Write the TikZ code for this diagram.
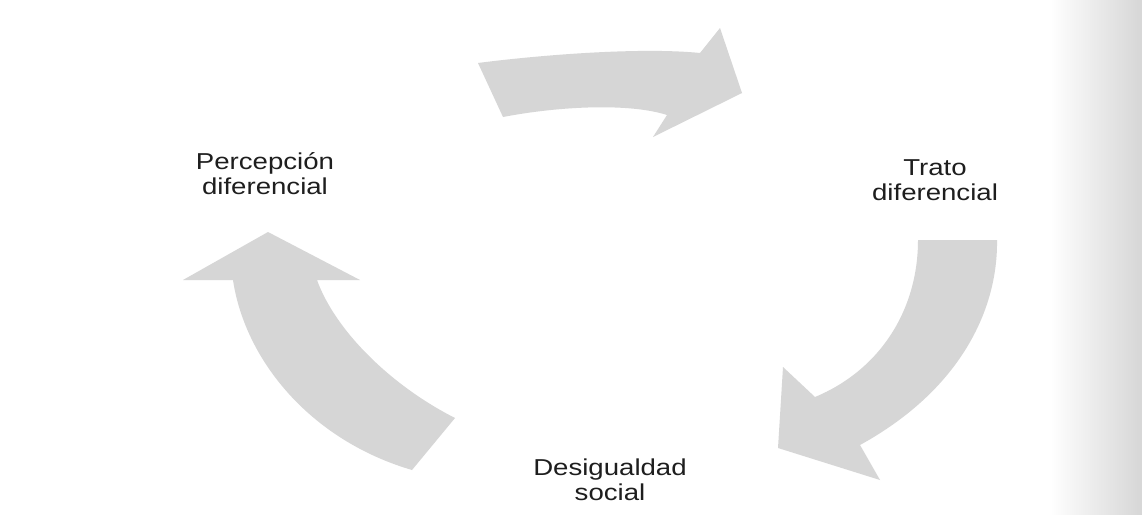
\documentclass[tikz,border=0pt]{standalone}
\usepackage{fontspec}
\newfontfamily\labfont[FakeStretch=1.2]{Liberation Sans}
\definecolor{arrowgray}{RGB}{214,214,214}
\definecolor{textgray}{RGB}{30,30,30}
\begin{document}
\begin{tikzpicture}[x=1pt,y=-1pt,
  blockarrow/.style={fill=arrowgray,draw=none},
  lab/.style={font=\labfont\fontsize{23}{25.5}\selectfont,text=textgray,align=center,inner sep=0pt}]
\useasboundingbox (0,0) rectangle (1142,514);
\fill[white] (0,0) rectangle (1142,514);
\shade[left color=white,right color=black!16,draw=none] (1050,0) rectangle (1142,514);
% top arrow
\fill[blockarrow] (478,63) .. controls (540,55) and (640,47) .. (700,53)
  -- (720,28) -- (742,93) -- (653,137) -- (667,115)
  .. controls (630,103) and (560,106) .. (503,117) -- cycle;
% right arrow
\fill[blockarrow] (918,240) -- (997,240)
  .. controls (998,310) and (960,390) .. (860,445)
  -- (880,480) -- (778,448) -- (783,367) -- (815,397)
  .. controls (880,370) and (918,310) .. (918,240) -- cycle;
% left arrow
\fill[blockarrow] (268,232) -- (360,280) -- (317,280)
  .. controls (335,330) and (390,385) .. (455,418)
  -- (412,470)
  .. controls (310,440) and (245,360) .. (233,280)
  -- (183,280) -- cycle;
\node[lab] (perc) at (265,173.5) {Percepción\\diferencial};
\node[lab] (trato) at (935,180) {Trato\\diferencial};
\node[lab] (desig) at (610,480) {Desigualdad\\social};
\end{tikzpicture}
\end{document}
